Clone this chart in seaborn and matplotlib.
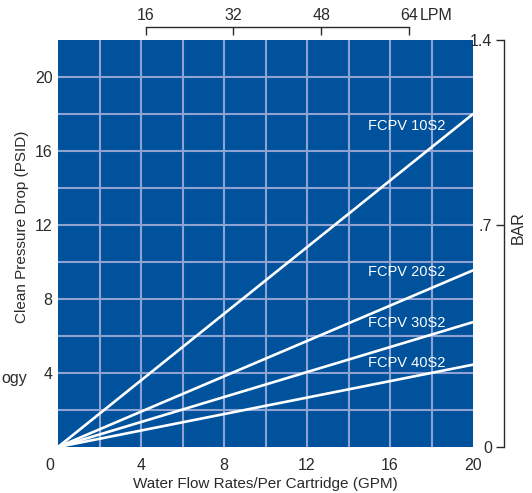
import matplotlib
matplotlib.use("Agg")
import matplotlib.pyplot as plt
from matplotlib.transforms import ScaledTranslation
import seaborn as sns
import pandas as pd

# ================= DATA =================

flow_gpm = [0, 20]
series_names = ["FCPV 10S2", "FCPV 20S2", "FCPV 30S2", "FCPV 40S2"]
psid_10s2 = [0, 18.0]
psid_20s2 = [0, 9.55]
psid_30s2 = [0, 6.75]
psid_40s2 = [0, 4.45]

label_x = 16.8
label_y = [17.35, 9.45, 6.7, 4.55]

x_ticks = [0, 4, 8, 12, 16, 20]
y_ticks = [4, 8, 12, 16, 20]
lpm_ticks = [16, 32, 48, 64]
bar_tick_pos = [0, 12, 22]
bar_tick_labels = ["0", ".7", "1.4"]

GPM_TO_LPM = 3.785

df = pd.DataFrame({
    "flow": flow_gpm * 4,
    "psid": psid_10s2 + psid_20s2 + psid_30s2 + psid_40s2,
    "series": [n for n in series_names for _ in flow_gpm],
})

# ================= STYLE =================

sns.set_theme(style="white")
plt.rcParams["font.family"] = ["Liberation Sans", "DejaVu Sans"]

BLUE = "#00529c"
GRID = "#8fa3d3"
TEXT = "#2a2a2a"
FS = 11.5

W, H = 532, 493
fig = plt.figure(figsize=(W / 100, H / 100), dpi=100)

left, right, top, bottom = 58, 473, 40, 447
rect = [left / W, (H - bottom) / H, (right - left) / W, (bottom - top) / H]
ax = fig.add_axes(rect)
ax.set_facecolor(BLUE)

sns.lineplot(
    data=df, x="flow", y="psid", units="series", estimator=None,
    color="white", linewidth=1.9, ax=ax, legend=False
)

ax.set_xlim(0, 20)
ax.set_ylim(0, 22)
for s in ax.spines.values():
    s.set_visible(False)

ax.set_xticks(x_ticks)
ax.set_xticks([2, 6, 10, 14, 18], minor=True)
ax.set_yticks(y_ticks)
ax.set_yticks([2, 6, 10, 14, 18], minor=True)
ax.grid(True, which="both", color=GRID, linewidth=1.5)
ax.set_axisbelow(True)
for t in [ax.xaxis.get_major_ticks()[0], ax.xaxis.get_major_ticks()[-1]]:
    t.gridline.set_visible(False)

ax.tick_params(axis="both", which="both", length=0, labelsize=FS, labelcolor=TEXT)
ax.tick_params(axis="x", pad=8)
ax.tick_params(axis="y", pad=4)

# shift the origin label left like the original
first = ax.xaxis.get_majorticklabels()[0]
first.set_transform(first.get_transform() + ScaledTranslation(-8 / 100, 0, fig.dpi_scale_trans))

ax.set_xlabel("Water Flow Rates/Per Cartridge (GPM)", fontsize=11, color=TEXT, labelpad=3)
ax.set_ylabel("")
fig.text(22 / W, 1 - 227 / H, "Clean Pressure Drop (PSID)", rotation=90,
         ha="center", va="center", fontsize=11, color=TEXT)

for name, ly in zip(series_names, label_y):
    ax.text(label_x, ly, name, color="white", fontsize=10.5, ha="center", va="center")

# ================= TOP LPM AXIS =================

ax_top = fig.add_axes([left / W, (H - 27) / H - 0.001, (right - left) / W, 0.001])
ax_top.set_xlim(0, 20 * GPM_TO_LPM)
ax_top.patch.set_visible(False)
for k, s in ax_top.spines.items():
    s.set_visible(k == "top")
ax_top.spines["top"].set_bounds(lpm_ticks[0], lpm_ticks[-1])
ax_top.spines["top"].set_color(TEXT)
ax_top.spines["top"].set_linewidth(1.0)
ax_top.set_yticks([])
ax_top.set_xticks(lpm_ticks)
ax_top.set_xticklabels([str(v) for v in lpm_ticks])
ax_top.xaxis.set_ticks_position("top")
ax_top.tick_params(axis="x", direction="in", length=5.5, width=1.0, color=TEXT,
                   labelsize=FS, labelcolor=TEXT, pad=3, top=True, bottom=False,
                   labeltop=True, labelbottom=False)
ax_top.annotate("LPM", xy=(lpm_ticks[-1], 1), xycoords=("data", "axes fraction"),
                xytext=(8, 3), textcoords="offset points", ha="left", va="bottom",
                fontsize=FS, color=TEXT)

# ================= RIGHT BAR AXIS =================

ax_bar = fig.add_axes([504 / W, rect[1], 0.001, rect[3]])
ax_bar.set_ylim(0, 22)
ax_bar.patch.set_visible(False)
for k, s in ax_bar.spines.items():
    s.set_visible(k == "left")
ax_bar.spines["left"].set_color(TEXT)
ax_bar.spines["left"].set_linewidth(1.0)
ax_bar.set_xticks([])
ax_bar.set_yticks(bar_tick_pos)
ax_bar.set_yticklabels(bar_tick_labels)
ax_bar.tick_params(axis="y", direction="out", length=5.5, width=1.0, color=TEXT,
                   left=True, right=False, labelleft=True,
                   labelsize=FS, labelcolor=TEXT, pad=3)
fig.text(518 / W, 1 - 228 / H, "BAR", rotation=90, ha="center", va="center",
         fontsize=FS, color=TEXT)

# cut-off text at the far left of the original
fig.text(1 / W, 1 - 378 / H, "ogy", ha="left", va="center", fontsize=11.5, color=TEXT)

fig.savefig("out.png", dpi=100)
